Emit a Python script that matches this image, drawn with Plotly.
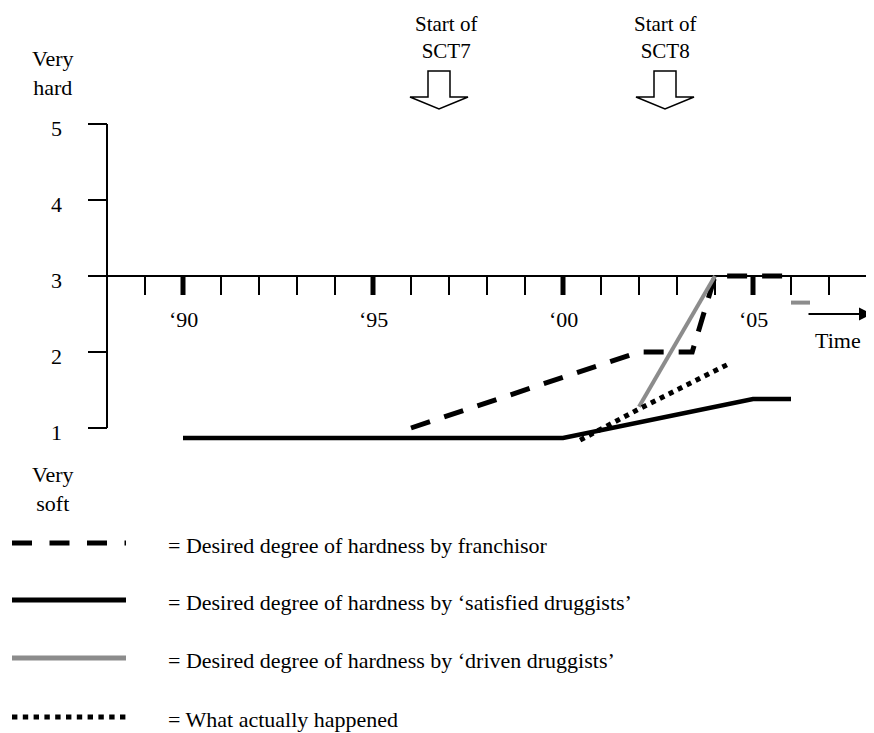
import plotly.graph_objects as go

# ---------------- data ----------------
years_minor = [1989, 1991, 1992, 1993, 1994, 1996, 1997, 1998, 1999,
               2001, 2002, 2003, 2004, 2006, 2007]
years_major = [1990, 1995, 2000, 2005]
major_labels = ["\u201890", "\u201895", "\u201800", "\u201805"]
y_ticks = [1, 2, 3, 4, 5]
y_tick_labels = ["1", "2", "3", "4", "5"]

franchisor_x = [1996, 2002, 2003.4, 2004, 2006]
franchisor_y = [1.0, 2.0, 2.0, 3.0, 3.0]

satisfied_x = [1990, 2000, 2005, 2006]
satisfied_y = [0.87, 0.87, 1.38, 1.38]

driven_x = [2002, 2004, None, 2006, 2006.5]
driven_y = [1.28, 3.0, None, 2.65, 2.65]

actual_x = [2000.45, 2002, 2004.35]
actual_y = [0.84, 1.25, 1.84]

legend_labels = [
    "= Desired degree of hardness by franchisor",
    "= Desired degree of hardness by \u2018satisfied druggists\u2019",
    "= Desired degree of hardness by \u2018driven druggists\u2019",
    "= What actually happened",
]

# ---------------- layout helpers ----------------
OFF = 8                      # page body margin
W, H = 874 - OFF, 733 - OFF  # figure size
PX0, PY3, PPY, PPU = 107, 276, 38.0, 76.0   # page px of 1988, page px of y=3, px/year, px/unit
def xdat(px):
    return 1988 + (px - PX0) / PPY
def ydat(py):
    return 3 - (py - PY3) / PPU
def px_x(px):
    return (px - OFF) / W
def px_y(py):
    return 1 - (py - OFF) / H

FAMILY = "Liberation Serif, 'Times New Roman', serif"
FONT = dict(family=FAMILY, size=22, color="black")
FONT_TOP = dict(family=FAMILY, size=21, color="black")
BLACK = "#000000"
GREY = "#8c8c8c"

fig = go.Figure()

def seg_trace(xs, ys, width, color=BLACK, dash=None):
    fig.add_trace(go.Scatter(x=xs, y=ys, mode="lines", hoverinfo="skip",
                             showlegend=False,
                             line=dict(color=color, width=width, dash=dash)))

# axes: horizontal at y=3, vertical at 1988 from 1 to 5
seg_trace([xdat(88), xdat(866)], [3, 3], 2)
seg_trace([1988, 1988], [y_ticks[0], y_ticks[-1]], 2)
# y ticks
yt_x, yt_y = [], []
for v in y_ticks:
    yt_x += [xdat(88), 1988, None]
    yt_y += [v, v, None]
seg_trace(yt_x, yt_y, 2)
# x ticks
tick_len = 19 / PPU
mx, my = [], []
for yr in years_minor:
    mx += [yr, yr, None]
    my += [3, 3 - tick_len, None]
seg_trace(mx, my, 2)
Mx, My = [], []
for yr in years_major:
    Mx += [yr, yr, None]
    My += [3, 3 - tick_len, None]
seg_trace(Mx, My, 5)

# data series
seg_trace(satisfied_x, satisfied_y, 4.5)
seg_trace(franchisor_x, franchisor_y, 5, dash="20px,15px")
seg_trace(driven_x, driven_y, 4, color=GREY)
seg_trace(actual_x, actual_y, 5, dash="5px,5px")

annotations = []
# x tick labels
for yr, lab in zip(years_major, major_labels):
    annotations.append(dict(x=yr, y=ydat(319), text=lab, showarrow=False,
                            xanchor="center", yanchor="middle", font=FONT))
# y tick labels
for v, lab in zip(y_ticks, y_tick_labels):
    annotations.append(dict(x=xdat(56), y=v - 4 / PPU, text=lab, showarrow=False,
                            xanchor="center", yanchor="middle", font=FONT))

def txt(px, py, text, anchor="center", font=FONT):
    annotations.append(dict(x=px_x(px), y=px_y(py), xref="paper", yref="paper",
                            text=text, showarrow=False, xanchor=anchor,
                            yanchor="middle", font=font))

txt(53, 73, "Very<br>hard")
txt(53, 489, "Very<br>soft")
txt(446, 37, "Start of<br>SCT7", font=FONT_TOP)
txt(665, 37, "Start of<br>SCT8", font=FONT_TOP)
txt(838, 341, "Time")

# Time arrow
annotations.append(dict(x=xdat(872), y=ydat(314), ax=xdat(807), ay=ydat(314),
                        xref="x", yref="y", axref="x", ayref="y",
                        showarrow=True, arrowhead=2, arrowsize=1.3,
                        arrowwidth=2, arrowcolor=BLACK, text=""))

shapes = []
# hollow down arrows
for cx in (439, 665):
    pts = [(cx - 11, 71), (cx + 11, 71), (cx + 11, 97), (cx + 29, 97),
           (cx, 109), (cx - 29, 97), (cx - 11, 97)]
    path = "M " + " L ".join(f"{px_x(a):.5f},{px_y(b):.5f}" for a, b in pts) + " Z"
    shapes.append(dict(type="path", path=path, xref="paper", yref="paper",
                       line=dict(color=BLACK, width=1.5), fillcolor="white"))

# legend
leg_rows = [543, 600, 658, 717]
leg_styles = [dict(color=BLACK, width=5, dash="20px,17.5px"),
              dict(color=BLACK, width=5),
              dict(color=GREY, width=5),
              dict(color=BLACK, width=5, dash="5.4px,5.4px")]
for ry, st, lab in zip(leg_rows, leg_styles, legend_labels):
    shapes.append(dict(type="line", xref="paper", yref="paper",
                       x0=px_x(12), x1=px_x(126), y0=px_y(ry), y1=px_y(ry),
                       line=st))
    txt(166, ry + 2, lab, anchor="left")

fig.update_layout(
    width=W, height=H, autosize=False,
    margin=dict(l=0, r=0, t=0, b=0),
    paper_bgcolor="white", plot_bgcolor="white",
    xaxis=dict(range=[xdat(OFF), xdat(874)], visible=False, fixedrange=True),
    yaxis=dict(range=[ydat(733), ydat(OFF)], visible=False, fixedrange=True),
    annotations=annotations, shapes=shapes, showlegend=False,
)

fig.write_html("out.html")
